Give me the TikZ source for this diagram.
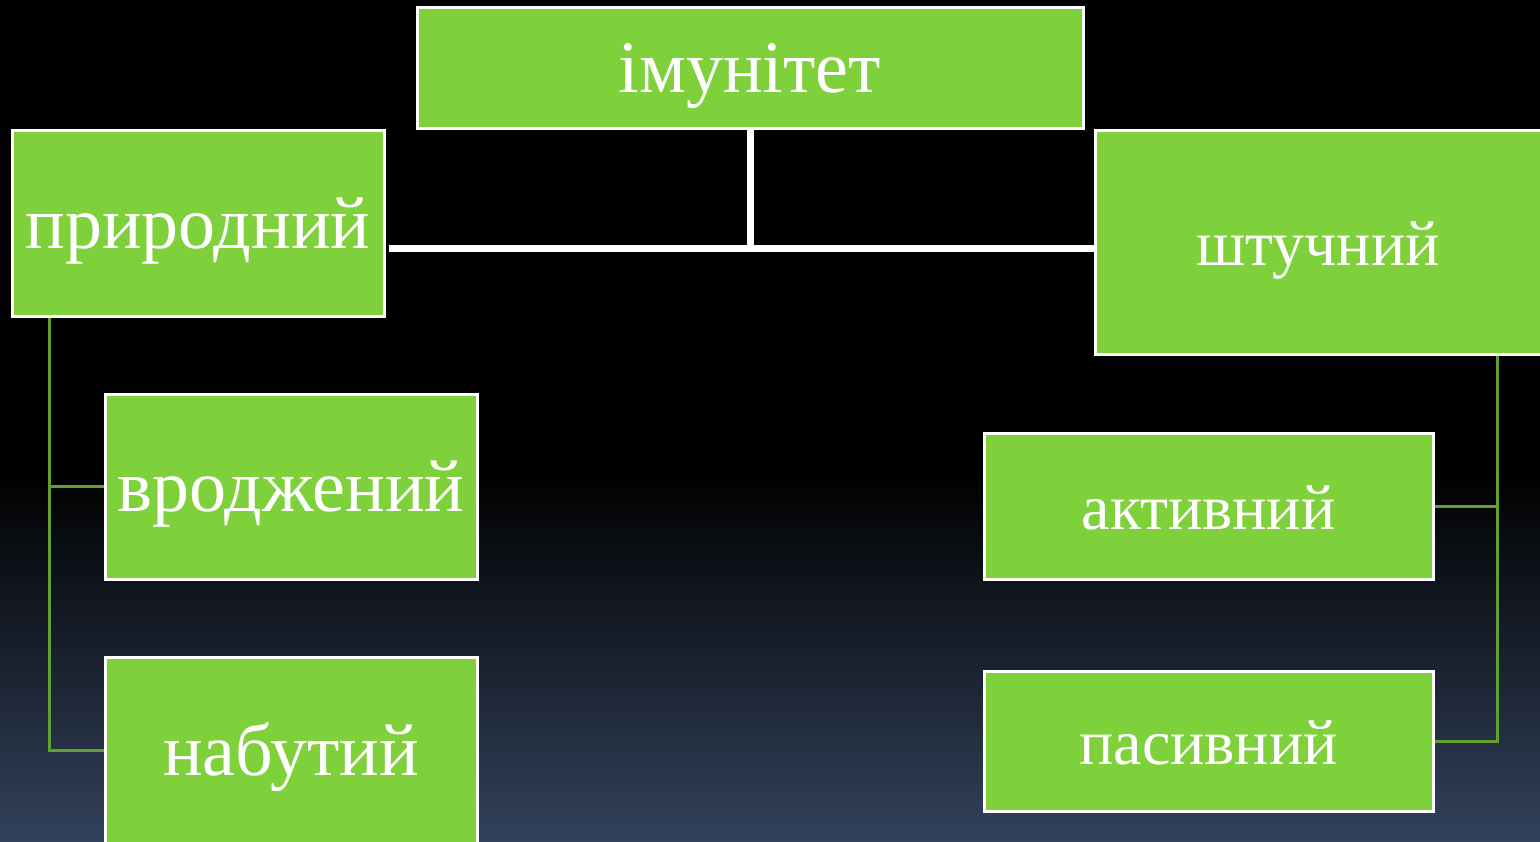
\documentclass[tikz,border=0pt]{standalone}
\usepackage{fontspec}
\setmainfont{Liberation Serif}
\definecolor{boxgreen}{RGB}{127,209,60}
\definecolor{linegreen}{RGB}{98,160,52}
\definecolor{bgbottom}{RGB}{50,65,92}
\begin{document}
\begin{tikzpicture}[x=1pt,y=-1pt,
  box/.style={draw=white, line width=3pt, fill=boxgreen, inner sep=0pt, text=white,
    text depth=0pt},
  bigtext/.style={font=\fontsize{74}{80}\selectfont, text height=50pt},
  smalltext/.style={font=\fontsize{64}{70}\selectfont, text height=46pt},
  whiteline/.style={draw=white, line width=7pt},
  greenline/.style={draw=linegreen, line width=3pt}]
\useasboundingbox (0,0) rectangle (1540,841);
\clip (0,0) rectangle (1540,841);
\fill[black] (0,0) rectangle (1540,841);
\shade[top color=black, bottom color=bgbottom] (0,470) rectangle (1540,841);
% boxes
\node[box, bigtext, minimum width=666pt, minimum height=121pt] (imun) at (750,67.5) {імунітет};
\node[box, bigtext, minimum width=372pt, minimum height=186pt] (prir) at (198,223) {природний};
\node[box, smalltext, minimum width=446pt, minimum height=224pt] (shtuch) at (1318,242) {штучний};
\node[box, bigtext, minimum width=372pt, minimum height=185pt] (vrodj) at (291,486.5) {вроджений};
\node[box, bigtext, minimum width=372pt, minimum height=186pt] (nabut) at (291,750) {набутий};
\node[box, smalltext, minimum width=449pt, minimum height=146pt] (aktyv) at (1208.5,506) {активний};
\node[box, smalltext, minimum width=449pt, minimum height=140pt] (pasyv) at (1208.5,741) {пасивний};
% white connectors
\coordinate (jn) at (750,248);
\draw[whiteline] (imun.south) -- (jn);
\draw[whiteline] ([xshift=3pt]prir.east |- jn) -- (shtuch.west |- jn);
% green connectors
\coordinate (lx) at ([xshift=39pt]prir.south west);
\draw[greenline] (lx) |- (vrodj.west);
\draw[greenline] (lx) |- (nabut.west);
\coordinate (rx) at ([xshift=404pt]shtuch.south west);
\draw[greenline] (rx) |- (aktyv.east);
\draw[greenline] (rx) |- (pasyv.east);
\end{tikzpicture}
\end{document}
